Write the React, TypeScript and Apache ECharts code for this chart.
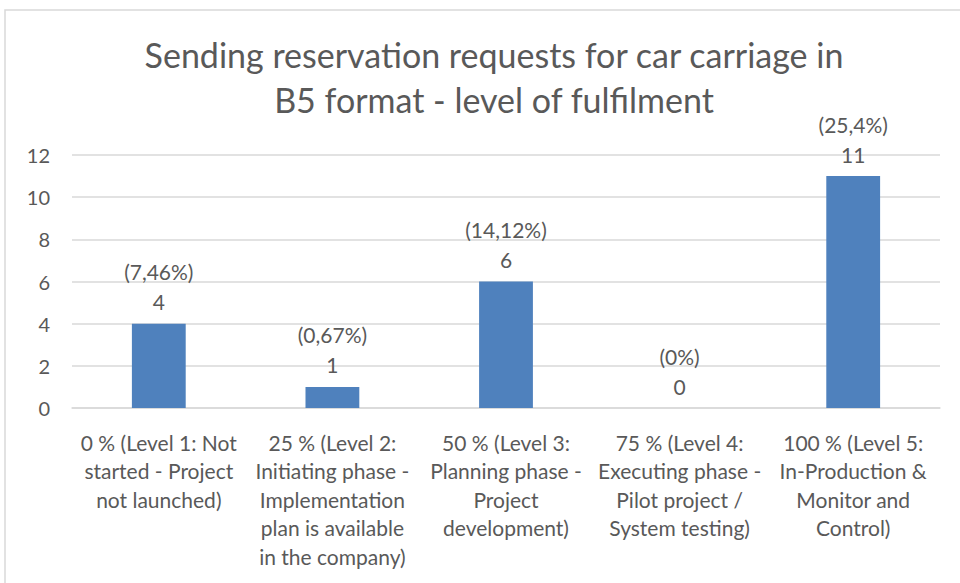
import React, { useEffect, useRef } from "react";
import * as echarts from "echarts";

const titleText = "Sending reservation requests for car carriage in\nB5 format - level of fulfilment";
const categories = [
  "0 % (Level 1: Not\nstarted - Project\nnot launched)",
  "25 % (Level 2:\nInitiating phase -\nImplementation\nplan is available\nin the company)",
  "50 % (Level 3:\nPlanning phase -\nProject\ndevelopment)",
  "75 % (Level 4:\nExecuting phase -\nPilot project /\nSystem testing)",
  "100 % (Level 5:\nIn-Production &\nMonitor and\nControl)",
];
const values = [4, 1, 6, 0, 11];
const percents = ["7,46%", "0,67%", "14,12%", "0%", "25,4%"];
const yTicks = { min: 0, max: 12, interval: 2 };

const FONT = "Lato";
const TEXT = "#595959";

export default function App() {
  const ref = useRef<HTMLDivElement>(null);
  useEffect(() => {
    if (!ref.current) return;
    const chart = echarts.init(ref.current, null, { renderer: "svg" });
    chart.setOption({
      animation: false,
      backgroundColor: "#ffffff",
      textStyle: { fontFamily: FONT },
      graphic: [
        {
          type: "rect",
          shape: { x: 5, y: 10, width: 1000, height: 620 },
          style: { fill: "none", stroke: "#d9d9d9", lineWidth: 1.5 },
          silent: true,
          z: -1,
        },
      ],
      title: {
        text: titleText,
        left: 489,
        textAlign: "center",
        top: 27,
        textStyle: {
          fontFamily: FONT,
          fontSize: 34,
          fontWeight: "normal",
          color: TEXT,
          lineHeight: 45,
        },
      },
      grid: { left: 72, right: 20, top: 155, bottom: 175, containLabel: false },
      xAxis: {
        type: "category",
        data: categories,
        axisLine: { show: true, lineStyle: { color: "#d9d9d9", width: 1.5 } },
        axisTick: { show: false },
        axisLabel: {
          interval: 0,
          margin: 20,
          color: TEXT,
          fontFamily: FONT,
          fontSize: 21,
          lineHeight: 28.5,
        },
      },
      yAxis: {
        type: "value",
        min: yTicks.min,
        max: yTicks.max,
        interval: yTicks.interval,
        axisLine: { show: false },
        axisTick: { show: false },
        splitLine: { lineStyle: { color: "#d9d9d9", width: 1.5 } },
        axisLabel: { margin: 22, color: TEXT, fontFamily: FONT, fontSize: 20 },
      },
      series: [
        {
          type: "bar",
          data: values,
          barWidth: "31%",
          itemStyle: { color: "#4f81bd" },
          label: {
            show: true,
            position: "top",
            distance: 7,
            color: TEXT,
            fontFamily: FONT,
            fontSize: 21,
            lineHeight: 30,
            formatter: (p: any) => `(${percents[p.dataIndex]})\n${p.value}`,
          },
        },
      ],
    });
    return () => chart.dispose();
  }, []);
  return (
    <div
      ref={ref}
      style={{ position: "fixed", left: 0, top: 0, width: 960, height: 583 }}
    />
  );
}
